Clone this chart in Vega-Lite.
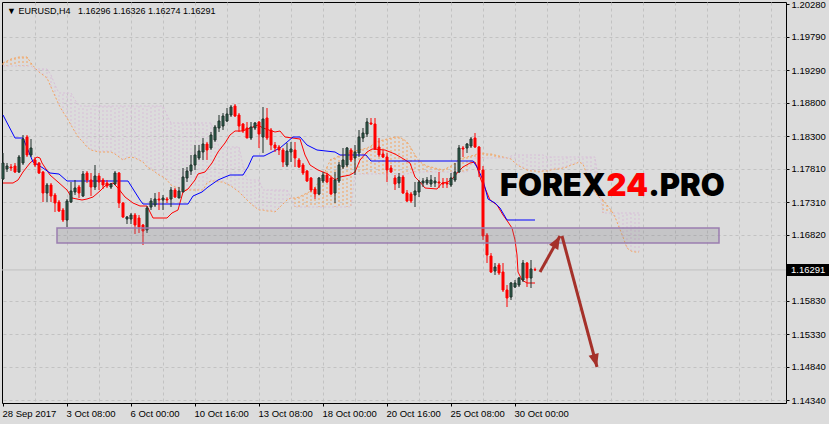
{
"$schema":"https://vega.github.io/schema/vega-lite/v6.json",
"width":784,"height":401,
"autosize":{"type":"none"},
"padding":{"left":2,"top":2,"right":43,"bottom":21},
"background":"#dcdcdc",
"config":{"view":{"stroke":"#000000","strokeWidth":1},"axis":{"labelOverlap":false,"labelSeparation":0},"scale":{"continuousPadding":0}},
"datasets":{
"candles":[
{"i":0,"o":1.17655,"h":1.18045,"l":1.1764,"c":1.17895},
{"i":1,"o":1.17805,"h":1.17895,"l":1.1776,"c":1.1785},
{"i":2,"o":1.17835,"h":1.1788,"l":1.17775,"c":1.1782},
{"i":3,"o":1.1785,"h":1.17895,"l":1.17745,"c":1.1776},
{"i":4,"o":1.1776,"h":1.18015,"l":1.17745,"c":1.17985},
{"i":5,"o":1.17895,"h":1.18315,"l":1.17865,"c":1.18255},
{"i":6,"o":1.18285,"h":1.18315,"l":1.17985,"c":1.18015},
{"i":7,"o":1.18015,"h":1.18255,"l":1.17985,"c":1.1812},
{"i":8,"o":1.1794,"h":1.17985,"l":1.17835,"c":1.17865},
{"i":9,"o":1.17895,"h":1.1791,"l":1.1773,"c":1.17745},
{"i":10,"o":1.1776,"h":1.17775,"l":1.1731,"c":1.17445},
{"i":11,"o":1.17445,"h":1.17595,"l":1.1731,"c":1.17565},
{"i":12,"o":1.17565,"h":1.17595,"l":1.1731,"c":1.174},
{"i":13,"o":1.17415,"h":1.17445,"l":1.1716,"c":1.17295},
{"i":14,"o":1.1731,"h":1.1734,"l":1.1716,"c":1.17175},
{"i":15,"o":1.1719,"h":1.1722,"l":1.1701,"c":1.1704},
{"i":16,"o":1.1704,"h":1.17355,"l":1.16935,"c":1.17325},
{"i":17,"o":1.1731,"h":1.1761,"l":1.17295,"c":1.17475},
{"i":18,"o":1.1746,"h":1.1764,"l":1.17415,"c":1.1752},
{"i":19,"o":1.17535,"h":1.17565,"l":1.1737,"c":1.17445},
{"i":20,"o":1.174,"h":1.17775,"l":1.17385,"c":1.1773},
{"i":21,"o":1.17745,"h":1.17775,"l":1.17595,"c":1.1764},
{"i":22,"o":1.1764,"h":1.17745,"l":1.174,"c":1.17535},
{"i":23,"o":1.17535,"h":1.17865,"l":1.1749,"c":1.177},
{"i":24,"o":1.177,"h":1.17745,"l":1.1749,"c":1.1761},
{"i":25,"o":1.1764,"h":1.1767,"l":1.17505,"c":1.17565},
{"i":26,"o":1.17595,"h":1.1764,"l":1.1752,"c":1.1755},
{"i":27,"o":1.17535,"h":1.17595,"l":1.17505,"c":1.1758},
{"i":28,"o":1.1758,"h":1.17775,"l":1.17565,"c":1.17745},
{"i":29,"o":1.17745,"h":1.1776,"l":1.1722,"c":1.17295},
{"i":30,"o":1.17295,"h":1.1731,"l":1.1707,"c":1.17085},
{"i":31,"o":1.17055,"h":1.171,"l":1.1698,"c":1.17085},
{"i":32,"o":1.17055,"h":1.17145,"l":1.1698,"c":1.17115},
{"i":33,"o":1.17115,"h":1.17145,"l":1.1683,"c":1.16965},
{"i":34,"o":1.1707,"h":1.17115,"l":1.16845,"c":1.16935},
{"i":35,"o":1.16965,"h":1.1698,"l":1.16665,"c":1.16875},
{"i":36,"o":1.1689,"h":1.1725,"l":1.16845,"c":1.1722},
{"i":37,"o":1.17235,"h":1.1737,"l":1.1719,"c":1.17325},
{"i":38,"o":1.17265,"h":1.17445,"l":1.17235,"c":1.17355},
{"i":39,"o":1.17355,"h":1.1746,"l":1.1719,"c":1.1734},
{"i":40,"o":1.1734,"h":1.17415,"l":1.1719,"c":1.1737},
{"i":41,"o":1.17355,"h":1.17385,"l":1.17295,"c":1.1734},
{"i":42,"o":1.17355,"h":1.17535,"l":1.17235,"c":1.1749},
{"i":43,"o":1.1749,"h":1.1752,"l":1.1737,"c":1.17385},
{"i":44,"o":1.1737,"h":1.17535,"l":1.1737,"c":1.17475},
{"i":45,"o":1.1746,"h":1.1782,"l":1.1746,"c":1.17685},
{"i":46,"o":1.1767,"h":1.17835,"l":1.1761,"c":1.17775},
{"i":47,"o":1.17775,"h":1.18015,"l":1.17715,"c":1.17865},
{"i":48,"o":1.17865,"h":1.18165,"l":1.1779,"c":1.18015},
{"i":49,"o":1.1797,"h":1.18165,"l":1.1794,"c":1.18075},
{"i":50,"o":1.1806,"h":1.1827,"l":1.1794,"c":1.1818},
{"i":51,"o":1.1818,"h":1.1821,"l":1.1794,"c":1.1809},
{"i":52,"o":1.1812,"h":1.1836,"l":1.1809,"c":1.18315},
{"i":53,"o":1.1824,"h":1.18465,"l":1.1821,"c":1.18435},
{"i":54,"o":1.1842,"h":1.18615,"l":1.1836,"c":1.18525},
{"i":55,"o":1.1845,"h":1.18645,"l":1.1839,"c":1.186},
{"i":56,"o":1.18525,"h":1.1872,"l":1.1851,"c":1.1863},
{"i":57,"o":1.18615,"h":1.18765,"l":1.18585,"c":1.18735},
{"i":58,"o":1.1875,"h":1.1878,"l":1.18585,"c":1.186},
{"i":59,"o":1.18615,"h":1.18645,"l":1.1836,"c":1.1845},
{"i":60,"o":1.1848,"h":1.18495,"l":1.18345,"c":1.18375},
{"i":61,"o":1.1842,"h":1.1851,"l":1.1827,"c":1.1827},
{"i":62,"o":1.1827,"h":1.1851,"l":1.1824,"c":1.18435},
{"i":63,"o":1.1842,"h":1.1851,"l":1.1839,"c":1.18495},
{"i":64,"o":1.1851,"h":1.18525,"l":1.1812,"c":1.1833},
{"i":65,"o":1.18285,"h":1.18735,"l":1.18045,"c":1.18555},
{"i":66,"o":1.1857,"h":1.1872,"l":1.1824,"c":1.1827},
{"i":67,"o":1.1839,"h":1.1842,"l":1.1809,"c":1.18165},
{"i":68,"o":1.18165,"h":1.1821,"l":1.1806,"c":1.1812},
{"i":69,"o":1.18135,"h":1.18165,"l":1.18015,"c":1.1809},
{"i":70,"o":1.1809,"h":1.1812,"l":1.17835,"c":1.1791},
{"i":71,"o":1.17865,"h":1.18195,"l":1.17835,"c":1.18075},
{"i":72,"o":1.1806,"h":1.1821,"l":1.1791,"c":1.18105},
{"i":73,"o":1.1809,"h":1.1821,"l":1.17835,"c":1.1797},
{"i":74,"o":1.1794,"h":1.1797,"l":1.1782,"c":1.17835},
{"i":75,"o":1.17865,"h":1.17895,"l":1.17715,"c":1.17745},
{"i":76,"o":1.17775,"h":1.1779,"l":1.1761,"c":1.17625},
{"i":77,"o":1.1767,"h":1.17685,"l":1.1746,"c":1.1749},
{"i":78,"o":1.17505,"h":1.17535,"l":1.17355,"c":1.1743},
{"i":79,"o":1.1743,"h":1.17685,"l":1.17415,"c":1.1767},
{"i":80,"o":1.17625,"h":1.1776,"l":1.17595,"c":1.17715},
{"i":81,"o":1.17715,"h":1.17745,"l":1.17595,"c":1.1761},
{"i":82,"o":1.1767,"h":1.17685,"l":1.17415,"c":1.1743},
{"i":83,"o":1.17445,"h":1.1776,"l":1.17295,"c":1.1764},
{"i":84,"o":1.17625,"h":1.1791,"l":1.17595,"c":1.17865},
{"i":85,"o":1.17835,"h":1.1812,"l":1.17805,"c":1.1794},
{"i":86,"o":1.17865,"h":1.18135,"l":1.17835,"c":1.1812},
{"i":87,"o":1.1809,"h":1.1812,"l":1.1791,"c":1.1794},
{"i":88,"o":1.1797,"h":1.18165,"l":1.17715,"c":1.1806},
{"i":89,"o":1.18045,"h":1.1839,"l":1.17985,"c":1.18285},
{"i":90,"o":1.1827,"h":1.1842,"l":1.1821,"c":1.18345},
{"i":91,"o":1.1833,"h":1.1857,"l":1.18285,"c":1.1851},
{"i":92,"o":1.18495,"h":1.1857,"l":1.18465,"c":1.1848},
{"i":93,"o":1.1848,"h":1.1857,"l":1.1809,"c":1.18105},
{"i":94,"o":1.18135,"h":1.1827,"l":1.17985,"c":1.18015},
{"i":95,"o":1.1803,"h":1.1809,"l":1.1797,"c":1.17985},
{"i":96,"o":1.17985,"h":1.18045,"l":1.1761,"c":1.1779},
{"i":97,"o":1.1782,"h":1.17865,"l":1.17745,"c":1.1776},
{"i":98,"o":1.1767,"h":1.17715,"l":1.1749,"c":1.1758},
{"i":99,"o":1.17595,"h":1.17745,"l":1.1752,"c":1.17685},
{"i":100,"o":1.17685,"h":1.17715,"l":1.1743,"c":1.17445},
{"i":101,"o":1.17445,"h":1.1749,"l":1.1731,"c":1.17325},
{"i":102,"o":1.1743,"h":1.1746,"l":1.17295,"c":1.17325},
{"i":103,"o":1.17415,"h":1.1761,"l":1.17235,"c":1.17475},
{"i":104,"o":1.1746,"h":1.1764,"l":1.17385,"c":1.1761},
{"i":105,"o":1.17595,"h":1.1767,"l":1.17535,"c":1.17625},
{"i":106,"o":1.17595,"h":1.17685,"l":1.17565,"c":1.1764},
{"i":107,"o":1.1758,"h":1.17715,"l":1.17535,"c":1.1764},
{"i":108,"o":1.17595,"h":1.17685,"l":1.17535,"c":1.17625},
{"i":109,"o":1.1761,"h":1.1776,"l":1.1752,"c":1.17595},
{"i":110,"o":1.17595,"h":1.1767,"l":1.1752,"c":1.1758},
{"i":111,"o":1.17595,"h":1.1767,"l":1.1752,"c":1.1758},
{"i":112,"o":1.17565,"h":1.17745,"l":1.17535,"c":1.1767},
{"i":113,"o":1.1764,"h":1.17895,"l":1.1761,"c":1.1776},
{"i":114,"o":1.1776,"h":1.18165,"l":1.17745,"c":1.1812},
{"i":115,"o":1.1812,"h":1.1815,"l":1.17985,"c":1.18105},
{"i":116,"o":1.1812,"h":1.18195,"l":1.18045,"c":1.1818},
{"i":117,"o":1.1815,"h":1.18285,"l":1.1812,"c":1.18255},
{"i":118,"o":1.1827,"h":1.18345,"l":1.1812,"c":1.18135},
{"i":119,"o":1.18135,"h":1.1815,"l":1.17685,"c":1.1779},
{"i":120,"o":1.1779,"h":1.1785,"l":1.1674,"c":1.168},
{"i":121,"o":1.16815,"h":1.16845,"l":1.16395,"c":1.16515},
{"i":122,"o":1.165,"h":1.16545,"l":1.16245,"c":1.1626},
{"i":123,"o":1.16275,"h":1.16395,"l":1.16215,"c":1.16335},
{"i":124,"o":1.16365,"h":1.16395,"l":1.16215,"c":1.16245},
{"i":125,"o":1.1626,"h":1.16395,"l":1.1596,"c":1.1599},
{"i":126,"o":1.1599,"h":1.16065,"l":1.15735,"c":1.1587},
{"i":127,"o":1.15885,"h":1.1611,"l":1.1584,"c":1.16095},
{"i":128,"o":1.16035,"h":1.1614,"l":1.1602,"c":1.16095},
{"i":129,"o":1.16065,"h":1.16185,"l":1.16035,"c":1.1617},
{"i":130,"o":1.1614,"h":1.1644,"l":1.1611,"c":1.16395},
{"i":131,"o":1.16395,"h":1.1641,"l":1.16035,"c":1.1617},
{"i":132,"o":1.1617,"h":1.1644,"l":1.1602,"c":1.16305},
{"i":133,"o":1.16296,"h":1.16326,"l":1.16274,"c":1.16291}
],
"cloud":[
{"i":0,"a":1.19395,"b":1.1935},{"i":1,"a":1.19425,"b":1.1935},{"i":2,"a":1.19455,"b":1.1935},{"i":3,"a":1.1947,"b":1.1935},
{"i":4,"a":1.19485,"b":1.1935},{"i":5,"a":1.19485,"b":1.1935},{"i":6,"a":1.19485,"b":1.1935},{"i":7,"a":1.19395,"b":1.1935},
{"i":8,"a":1.1932,"b":1.19305},{"i":9,"a":1.1926,"b":1.19305},{"i":10,"a":1.19215,"b":1.19305},{"i":11,"a":1.1917,"b":1.19305},
{"i":12,"a":1.19035,"b":1.19215},{"i":13,"a":1.189,"b":1.19065},{"i":14,"a":1.18765,"b":1.18945},{"i":15,"a":1.1866,"b":1.18945},
{"i":16,"a":1.1857,"b":1.18945},{"i":17,"a":1.18465,"b":1.18945},{"i":18,"a":1.1836,"b":1.1884},{"i":19,"a":1.1827,"b":1.1875},
{"i":20,"a":1.1821,"b":1.1875},{"i":21,"a":1.18135,"b":1.1875},{"i":22,"a":1.1809,"b":1.1875},{"i":23,"a":1.18075,"b":1.1875},
{"i":24,"a":1.1806,"b":1.1875},{"i":25,"a":1.1806,"b":1.1875},{"i":26,"a":1.1806,"b":1.1875},{"i":27,"a":1.1806,"b":1.1875},
{"i":28,"a":1.1803,"b":1.1875},{"i":29,"a":1.17985,"b":1.1875},{"i":30,"a":1.1794,"b":1.1875},{"i":31,"a":1.1797,"b":1.1875},
{"i":32,"a":1.17985,"b":1.1875},{"i":33,"a":1.1797,"b":1.1875},{"i":34,"a":1.1794,"b":1.1875},{"i":35,"a":1.1791,"b":1.1875},
{"i":36,"a":1.17835,"b":1.1875},{"i":37,"a":1.17805,"b":1.1875},{"i":38,"a":1.1776,"b":1.1875},{"i":39,"a":1.17715,"b":1.1875},
{"i":40,"a":1.17685,"b":1.1875},{"i":41,"a":1.1764,"b":1.18615},{"i":42,"a":1.17565,"b":1.18495},{"i":43,"a":1.17535,"b":1.18495},
{"i":44,"a":1.1752,"b":1.18495},{"i":45,"a":1.1749,"b":1.18495},{"i":46,"a":1.1749,"b":1.18495},{"i":47,"a":1.1749,"b":1.18495},
{"i":48,"a":1.1749,"b":1.18495},{"i":49,"a":1.1749,"b":1.18495},{"i":50,"a":1.1749,"b":1.18495},{"i":51,"a":1.17595,"b":1.18495},
{"i":52,"a":1.17625,"b":1.18495},{"i":53,"a":1.17625,"b":1.18315},{"i":54,"a":1.1761,"b":1.18135},{"i":55,"a":1.1761,"b":1.18135},
{"i":56,"a":1.1758,"b":1.18135},{"i":57,"a":1.1755,"b":1.18135},{"i":58,"a":1.17505,"b":1.18135},{"i":59,"a":1.1746,"b":1.18135},
{"i":60,"a":1.174,"b":1.17865},{"i":61,"a":1.1734,"b":1.1764},{"i":62,"a":1.1728,"b":1.1764},{"i":63,"a":1.17235,"b":1.1764},
{"i":64,"a":1.1719,"b":1.1764},{"i":65,"a":1.1719,"b":1.1749},{"i":66,"a":1.17175,"b":1.1749},{"i":67,"a":1.17175,"b":1.1749},
{"i":68,"a":1.1716,"b":1.1749},{"i":69,"a":1.1722,"b":1.1749},{"i":70,"a":1.1728,"b":1.1749},{"i":71,"a":1.1734,"b":1.1749},
{"i":72,"a":1.1737,"b":1.1737},{"i":73,"a":1.1737,"b":1.17235},{"i":74,"a":1.17385,"b":1.17235},{"i":75,"a":1.17415,"b":1.17235},
{"i":76,"a":1.17445,"b":1.17235},{"i":77,"a":1.17475,"b":1.17235},{"i":78,"a":1.17535,"b":1.17235},{"i":79,"a":1.1761,"b":1.17235},
{"i":80,"a":1.17685,"b":1.17235},{"i":81,"a":1.17835,"b":1.17235},{"i":82,"a":1.17955,"b":1.17235},{"i":83,"a":1.1797,"b":1.17235},
{"i":84,"a":1.18,"b":1.17235},{"i":85,"a":1.18015,"b":1.17235},{"i":86,"a":1.1803,"b":1.17235},{"i":87,"a":1.1806,"b":1.17235},
{"i":88,"a":1.18075,"b":1.1773},{"i":89,"a":1.1809,"b":1.1773},{"i":90,"a":1.18105,"b":1.1773},{"i":91,"a":1.1812,"b":1.1773},
{"i":92,"a":1.1815,"b":1.1773},{"i":93,"a":1.18195,"b":1.1773},{"i":94,"a":1.18225,"b":1.1773},{"i":95,"a":1.1824,"b":1.1773},
{"i":96,"a":1.18255,"b":1.1773},{"i":97,"a":1.1827,"b":1.1773},{"i":98,"a":1.18285,"b":1.1773},{"i":99,"a":1.18285,"b":1.1773},
{"i":100,"a":1.18255,"b":1.1773},{"i":101,"a":1.1821,"b":1.1773},{"i":102,"a":1.1812,"b":1.17745},{"i":103,"a":1.18015,"b":1.1776},
{"i":104,"a":1.17925,"b":1.1776},{"i":105,"a":1.1788,"b":1.1776},{"i":106,"a":1.1785,"b":1.1776},{"i":107,"a":1.17835,"b":1.1776},
{"i":108,"a":1.1782,"b":1.1776},{"i":109,"a":1.17805,"b":1.1776},{"i":110,"a":1.1779,"b":1.1776},{"i":111,"a":1.1782,"b":1.1776},
{"i":112,"a":1.1785,"b":1.1776},{"i":113,"a":1.17895,"b":1.1776},{"i":114,"a":1.17955,"b":1.1776},{"i":115,"a":1.1797,"b":1.1776},
{"i":116,"a":1.17985,"b":1.1776},{"i":117,"a":1.18,"b":1.17865},{"i":118,"a":1.18015,"b":1.1797},{"i":119,"a":1.18045,"b":1.1797},
{"i":120,"a":1.18045,"b":1.1797},{"i":121,"a":1.1803,"b":1.1797},{"i":122,"a":1.1803,"b":1.1797},{"i":123,"a":1.18015,"b":1.1797},
{"i":124,"a":1.18,"b":1.1797},{"i":125,"a":1.17985,"b":1.1797},{"i":126,"a":1.1797,"b":1.1797},{"i":127,"a":1.17955,"b":1.18},
{"i":128,"a":1.17895,"b":1.18015},{"i":129,"a":1.1785,"b":1.18015},{"i":130,"a":1.1782,"b":1.18015},{"i":131,"a":1.1779,"b":1.18015},
{"i":132,"a":1.17775,"b":1.18015},{"i":133,"a":1.17775,"b":1.18015},{"i":134,"a":1.1776,"b":1.18015},{"i":135,"a":1.17775,"b":1.18015},
{"i":136,"a":1.17775,"b":1.17985},{"i":137,"a":1.1779,"b":1.17985},{"i":138,"a":1.17805,"b":1.17985},{"i":139,"a":1.17805,"b":1.17985},
{"i":140,"a":1.1782,"b":1.17985},{"i":141,"a":1.17835,"b":1.17985},{"i":142,"a":1.17865,"b":1.17985},{"i":143,"a":1.1788,"b":1.17985},
{"i":144,"a":1.1791,"b":1.17985},{"i":145,"a":1.1788,"b":1.17985},{"i":146,"a":1.17715,"b":1.17985},{"i":147,"a":1.17535,"b":1.17985},
{"i":148,"a":1.17445,"b":1.17985},{"i":149,"a":1.17385,"b":1.17565},{"i":150,"a":1.1734,"b":1.17145},{"i":151,"a":1.17265,"b":1.17145},
{"i":152,"a":1.1719,"b":1.17145},{"i":153,"a":1.17085,"b":1.17145},{"i":154,"a":1.16935,"b":1.17145},{"i":155,"a":1.16785,"b":1.17145},
{"i":156,"a":1.1662,"b":1.17145},{"i":157,"a":1.16575,"b":1.17145},{"i":158,"a":1.1656,"b":1.17145},{"i":159,"a":1.1656,"b":1.17145}
],
"tenkan":[
{"i":0,"v":1.17595},{"i":2.5,"v":1.17595},{"i":3.75,"v":1.1764},{"i":5,"v":1.1776},{"i":6.75,"v":1.17895},{"i":8.5,"v":1.17985},
{"i":9.25,"v":1.1797},{"i":9.75,"v":1.17895},{"i":11.75,"v":1.17715},{"i":13.75,"v":1.1761},{"i":16,"v":1.1749},{"i":17.25,"v":1.1737},
{"i":19.75,"v":1.1734},{"i":21,"v":1.17355},{"i":22.5,"v":1.17385},{"i":24.25,"v":1.17475},{"i":25.5,"v":1.1755},{"i":27.5,"v":1.17595},
{"i":28.75,"v":1.1752},{"i":30.5,"v":1.17385},{"i":32.5,"v":1.17295},{"i":34.25,"v":1.1725},{"i":36,"v":1.1725},{"i":37.5,"v":1.1707},
{"i":41,"v":1.1707},{"i":42.25,"v":1.17145},{"i":43.75,"v":1.1719},{"i":45,"v":1.1746},{"i":46.25,"v":1.17505},{"i":48,"v":1.1764},
{"i":48.75,"v":1.1773},{"i":50.5,"v":1.1776},{"i":52.25,"v":1.17895},{"i":53.75,"v":1.1806},{"i":55.5,"v":1.18195},{"i":56.75,"v":1.18315},
{"i":58,"v":1.18375},{"i":59.75,"v":1.18375},{"i":60.5,"v":1.1839},{"i":63.75,"v":1.18465},{"i":65,"v":1.1842},{"i":68,"v":1.1836},
{"i":69.25,"v":1.18375},{"i":70.5,"v":1.18285},{"i":74.25,"v":1.18255},{"i":75.5,"v":1.18015},{"i":76.75,"v":1.17865},{"i":78.75,"v":1.1779},
{"i":81.25,"v":1.1773},{"i":83,"v":1.1764},{"i":84.25,"v":1.17685},{"i":86.75,"v":1.17715},{"i":88,"v":1.1776},{"i":89.25,"v":1.1794},
{"i":91,"v":1.1806},{"i":92.25,"v":1.18105},{"i":95.5,"v":1.1809},{"i":98,"v":1.1803},{"i":99.75,"v":1.1797},{"i":101.75,"v":1.17895},
{"i":103,"v":1.17685},{"i":104.25,"v":1.1761},{"i":105.5,"v":1.1752},{"i":108.5,"v":1.17505},{"i":109.75,"v":1.17595},{"i":111.25,"v":1.1761},
{"i":112.5,"v":1.1767},{"i":113.75,"v":1.1776},{"i":115,"v":1.17835},{"i":116.75,"v":1.17895},{"i":118,"v":1.1791},{"i":118.5,"v":1.17835},
{"i":119.5,"v":1.1764},{"i":120.5,"v":1.1752},{"i":121.75,"v":1.1734},{"i":123.5,"v":1.17265},{"i":125,"v":1.17115},{"i":126.25,"v":1.1701},
{"i":127.25,"v":1.1692},{"i":128,"v":1.1674},{"i":128.5,"v":1.16515},{"i":128.75,"v":1.1626},{"i":129.75,"v":1.1614},{"i":131,"v":1.16095},
{"i":133,"v":1.16095}
],
"kijun":[
{"i":0,"v":1.18615},{"i":3,"v":1.1827},{"i":5,"v":1.1827},{"i":7.5,"v":1.1791},{"i":10,"v":1.1782},{"i":11.75,"v":1.17745},
{"i":14,"v":1.1773},{"i":16,"v":1.17625},{"i":31.25,"v":1.17625},{"i":34.25,"v":1.1734},{"i":35,"v":1.1728},{"i":46.25,"v":1.1728},
{"i":47.5,"v":1.174},{"i":49.75,"v":1.1746},{"i":51.25,"v":1.17535},{"i":53.75,"v":1.1764},{"i":55.5,"v":1.17685},{"i":56.75,"v":1.17715},
{"i":60,"v":1.17715},{"i":61.25,"v":1.17835},{"i":62.5,"v":1.18},{"i":65.25,"v":1.18},{"i":66.25,"v":1.1803},{"i":69.25,"v":1.1812},
{"i":72.5,"v":1.18285},{"i":74.25,"v":1.18285},{"i":76,"v":1.18165},{"i":78.5,"v":1.1809},{"i":83,"v":1.1806},{"i":84.25,"v":1.18015},
{"i":90.75,"v":1.18015},{"i":92,"v":1.17925},{"i":117.5,"v":1.17925},{"i":118.5,"v":1.17835},{"i":120,"v":1.1764},{"i":121.25,"v":1.17355},
{"i":123,"v":1.17295},{"i":124.25,"v":1.1722},{"i":126,"v":1.1704},{"i":133,"v":1.1704}
],
"zone":[{"i":13.5,"i2":179,"p":1.1692,"p2":1.16695}],
"arrows":[{"id":1,"i":134.25,"p":1.1626,"i2":139.25,"p2":1.168},{"id":2,"i":139.75,"p":1.168,"i2":148.5,"p2":1.14835}],
"last":[{"p":1.16291,"label":"1.16291","title":"▼ EURUSD,H4\u00a0\u00a0 1.16296 1.16326 1.16274 1.16291"}],
"brand":[{"a":"FOREX","b":"24","c":".PRO"}]
},
"layer":[
{"data":{"name":"cloud"},
 "mark":{"type":"rule","strokeWidth":1,"strokeDash":[2,2]},
 "encoding":{
  "x":{"field":"i","type":"quantitative","title":null,"scale":{"domain":[-0.25,195.75],"nice":false,"zero":false,"padding":0},
   "axis":{"values":[0,8,16,24,32,40,48,56,64,72,80,88,96,104,112,120,128,136,144,152,160,168,176,184,192],"tickCount":100,
    "grid":true,"gridColor":"#c2c2c2","gridDash":[3,3],
    "gridOpacity":{"condition":{"test":"datum.value == 0","value":0},"value":1},
    "domain":false,"ticks":true,"tickColor":"#000000","tickSize":3,
    "tickOpacity":{"condition":{"test":"datum.value % 16 != 0 || datum.value > 128","value":0},"value":1},
    "labelExpr":"datum.value == 0 ? '28 Sep 2017' : datum.value == 16 ? '3 Oct 08:00' : datum.value == 32 ? '6 Oct 00:00' : datum.value == 48 ? '10 Oct 16:00' : datum.value == 64 ? '13 Oct 08:00' : datum.value == 80 ? '18 Oct 00:00' : datum.value == 96 ? '20 Oct 16:00' : datum.value == 112 ? '25 Oct 08:00' : datum.value == 128 ? '30 Oct 00:00' : ''",
    "labelAlign":"left","labelBaseline":"top","labelPadding":2,"labelOffset":-1,"labelFont":"Liberation Sans","labelFontSize":9.5,"labelColor":"#000000",
    "labelOverlap":false,"labelFlush":false,"labelBound":false}},
  "y":{"field":"a","type":"quantitative","title":null,"scale":{"domain":[1.14295,1.2031],"nice":false,"zero":false,"padding":0},
   "axis":{"orient":"right","values":[1.2028,1.1979,1.1929,1.188,1.183,1.1781,1.1731,1.1682,1.1583,1.1533,1.1484,1.1434],"tickCount":100,
    "format":".5f","grid":true,"gridColor":"#c2c2c2","gridDash":[3,3],
    "gridOpacity":{"condition":{"test":"datum.value > 1.2","value":0},"value":1},
    "domain":false,"ticks":true,"tickColor":"#000000","tickSize":3,"labelPadding":2,"labelFont":"Liberation Sans","labelFontSize":9.5,
    "labelColor":"#000000","labelBaseline":"middle","labelOverlap":false,"labelFlush":false,"labelBound":false}},
  "y2":{"field":"b"},
  "color":{"condition":{"test":"datum.a > datum.b","value":"#f4a460"},"value":"#d8bfd8"}
 }},
{"data":{"name":"cloud"},"mark":{"type":"line","stroke":"#f4a460","strokeWidth":1,"strokeDash":[2,2]},
 "encoding":{"x":{"field":"i","type":"quantitative","title":null},
  "y":{"field":"a","type":"quantitative","title":null}}},
{"data":{"name":"cloud"},"mark":{"type":"line","stroke":"#d8bfd8","strokeWidth":1,"strokeDash":[2,2]},
 "encoding":{"x":{"field":"i","type":"quantitative","title":null},
  "y":{"field":"b","type":"quantitative","title":null}}},
{"data":{"name":"last"},"mark":{"type":"rule","stroke":"#c0c0c0","strokeWidth":1},
 "encoding":{"y":{"field":"p","type":"quantitative","title":null}}},
{"data":{"name":"tenkan"},"mark":{"type":"line","stroke":"#ff0000","strokeWidth":1},
 "encoding":{"x":{"field":"i","type":"quantitative","title":null},
  "y":{"field":"v","type":"quantitative","title":null}}},
{"data":{"name":"kijun"},"mark":{"type":"line","stroke":"#0000ff","strokeWidth":1},
 "encoding":{"x":{"field":"i","type":"quantitative","title":null},
  "y":{"field":"v","type":"quantitative","title":null}}},
{"data":{"name":"candles"},"mark":{"type":"rule","strokeWidth":1},
 "encoding":{"x":{"field":"i","type":"quantitative","title":null},
  "y":{"field":"l","type":"quantitative","title":null},
  "y2":{"field":"h"},
  "color":{"condition":{"test":"datum.c > datum.o","value":"#1e2e29"},"value":"#ff0000"}}},
{"data":{"name":"candles"},"mark":{"type":"bar","size":2,"strokeWidth":1},
 "encoding":{"x":{"field":"i","type":"quantitative","title":null},
  "y":{"field":"o","type":"quantitative","title":null},
  "y2":{"field":"c"},
  "fill":{"condition":{"test":"datum.c > datum.o","value":"#2f6652"},"value":"#ff0000"},
  "stroke":{"condition":{"test":"datum.c > datum.o","value":"#1e2e29"},"value":"#ff0000"}}},
{"data":{"name":"zone"},"mark":{"type":"rect","fill":"#808088","fillOpacity":0.25,"stroke":"#9a7db0","strokeWidth":1.5},
 "encoding":{"x":{"field":"i","type":"quantitative","title":null},
  "x2":{"field":"i2"},
  "y":{"field":"p","type":"quantitative","title":null},
  "y2":{"field":"p2"}}},
{"data":{"name":"arrows"},"mark":{"type":"rule","stroke":"#a5312a","strokeWidth":3,"strokeCap":"butt"},
 "encoding":{"x":{"field":"i","type":"quantitative","title":null},
  "x2":{"field":"i2"},
  "y":{"field":"p","type":"quantitative","title":null},
  "y2":{"field":"p2"}}},
{"data":{"name":"arrows"},"transform":[{"filter":"datum.id == 1"}],
 "mark":{"type":"point","shape":"M0,0L-0.8,2L0.8,2Z","filled":true,"fill":"#a5312a","stroke":null,"opacity":1,"size":169,"angle":29},
 "encoding":{"x":{"field":"i2","type":"quantitative","title":null},
  "y":{"field":"p2","type":"quantitative","title":null}}},
{"data":{"name":"arrows"},"transform":[{"filter":"datum.id == 2"}],
 "mark":{"type":"point","shape":"M0,0L-0.8,2L0.8,2Z","filled":true,"fill":"#a5312a","stroke":null,"opacity":1,"size":169,"angle":165},
 "encoding":{"x":{"field":"i2","type":"quantitative","title":null},
  "y":{"field":"p2","type":"quantitative","title":null}}},
{"data":{"name":"brand"},"mark":{"type":"text","font":"Inter","fontWeight":900,"fontSize":31,"fill":"#000000","align":"left","baseline":"alphabetic"},
 "encoding":{"text":{"field":"a"},
  "x":{"datum":124.25,"type":"quantitative","title":null},
  "y":{"datum":1.17395,"type":"quantitative","title":null}}},
{"data":{"name":"brand"},"mark":{"type":"text","font":"Inter","fontWeight":900,"fontSize":31,"fill":"#ff0000","align":"left","baseline":"alphabetic"},
 "encoding":{"text":{"field":"b"},
  "x":{"datum":150.9,"type":"quantitative","title":null},
  "y":{"datum":1.17395,"type":"quantitative","title":null}}},
{"data":{"name":"brand"},"mark":{"type":"text","font":"Inter","fontWeight":900,"fontSize":31,"fill":"#000000","align":"left","baseline":"alphabetic"},
 "encoding":{"text":{"field":"c"},
  "x":{"datum":161.3,"type":"quantitative","title":null},
  "y":{"datum":1.17395,"type":"quantitative","title":null}}},
{"data":{"name":"last"},"mark":{"type":"text","font":"Liberation Sans","fontSize":9,"fill":"#000000","align":"left","baseline":"alphabetic"},
 "encoding":{"text":{"field":"title"},
  "x":{"datum":1,"type":"quantitative","title":null},
  "y":{"datum":1.2013,"type":"quantitative","title":null}}},
{"data":{"name":"last"},"mark":{"type":"rect","fill":"#000000"},
 "encoding":{
  "x":{"datum":196,"type":"quantitative","title":null},
  "x2":{"datum":207},
  "y":{"datum":1.16381,"type":"quantitative","title":null},
  "y2":{"datum":1.16201}}},
{"data":{"name":"last"},"mark":{"type":"text","font":"Liberation Sans","fontSize":9.5,"fill":"#ffffff","align":"left","baseline":"middle"},
 "encoding":{"text":{"field":"label"},
  "x":{"datum":197,"type":"quantitative","title":null},
  "y":{"field":"p","type":"quantitative","title":null}}}
]
}
